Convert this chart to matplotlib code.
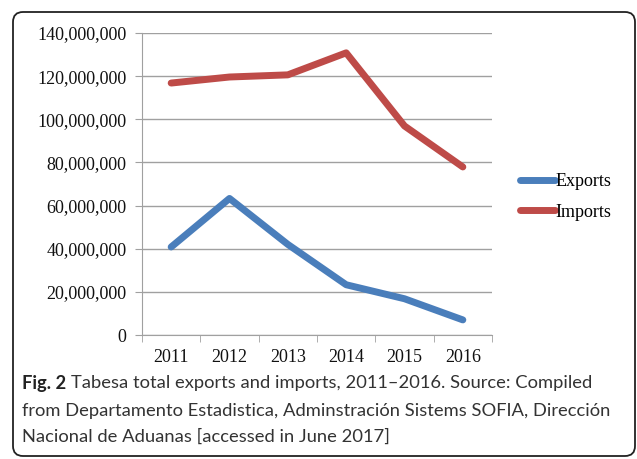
import matplotlib
matplotlib.use('Agg')
import matplotlib.pyplot as plt
from matplotlib.patches import FancyBboxPatch
from matplotlib.ticker import FuncFormatter, FixedLocator

# Datos
anios = ['2011', '2012', '2013', '2014', '2015', '2016']
exports = [40.8e6, 63.3e6, 42.0e6, 23.3e6, 16.8e6, 7.0e6]
imports = [116.8e6, 119.6e6, 120.6e6, 130.8e6, 96.9e6, 77.9e6]

color_exp = '#4a7ebb'
color_imp = '#be4b48'
fuente_ejes = 'Liberation Serif'
tam_ejes = 13

fig = plt.figure(figsize=(6.37, 4.59), dpi=100)
ax = fig.add_axes([142 / 637, 124 / 459, 350 / 637, 302 / 459])

x = list(range(len(anios)))
ax.plot(x, exports, color=color_exp, linewidth=5, solid_capstyle='round',
        solid_joinstyle='round', label='Exports', zorder=3)
ax.plot(x, imports, color=color_imp, linewidth=5, solid_capstyle='round',
        solid_joinstyle='round', label='Imports', zorder=3)

ax.set_xlim(-0.5, len(anios) - 0.5)
ax.set_ylim(0, 140e6)
ax.set_yticks([i * 20e6 for i in range(8)])
ax.yaxis.set_major_formatter(FuncFormatter(lambda v, p: f'{int(v):,}'))
ax.grid(axis='y', color='#a0a0a0', linewidth=1)
ax.set_axisbelow(True)

# ticks del eje x en los limites de las categorias (estilo Excel)
ax.set_xticks(x)
ax.set_xticklabels(anios)
ax.xaxis.set_minor_locator(FixedLocator([i - 0.5 for i in range(len(anios) + 1)]))
ax.tick_params(axis='x', which='major', length=0, pad=10)
ax.tick_params(axis='x', which='minor', length=5, color='#a0a0a0')
ax.tick_params(axis='y', length=5, color='#a0a0a0', pad=6)

for lbl in ax.get_xticklabels() + ax.get_yticklabels():
    lbl.set_fontfamily(fuente_ejes)
    lbl.set_fontsize(tam_ejes)
    lbl.set_color('#111111')

for lado in ['top', 'right']:
    ax.spines[lado].set_visible(False)
ax.spines['left'].set_color('#a0a0a0')
ax.spines['bottom'].set_color('#a0a0a0')

leg = ax.legend(loc='center left', bbox_to_anchor=(504 / 637, 1 - 197 / 459),
                bbox_transform=fig.transFigure, frameon=False, handlelength=1.9,
                handletextpad=0.05, labelspacing=0.75,
                prop={'family': fuente_ejes, 'size': tam_ejes})

# Marco redondeado
marco = FancyBboxPatch((13, 3), 622, 444, boxstyle='round,pad=0,rounding_size=10',
                       transform=None, facecolor='none', edgecolor='#222222',
                       linewidth=1.3)
fig.patches.append(marco)

# Pie de figura
fuente_pie = ['Lato', 'DejaVu Sans']
color_pie = '#333333'
linea1 = 'Tabesa total exports and imports, 2011\u20132016. Source: Compiled'
linea2 = 'from Departamento Estadistica, Adminstraci\u00f3n Sistems SOFIA, Direcci\u00f3n'
linea3 = 'Nacional de Aduanas [accessed in June 2017]'

# ajustar tamano para que la segunda linea ocupe el ancho del original
prueba = fig.text(0, 0, linea2, family=fuente_pie, fontsize=15)
fig.canvas.draw()
ancho = prueba.get_window_extent().width
prueba.remove()
tam_pie = 15 * 588 / ancho

t1 = fig.text(22 / 637, 1 - 383 / 459, 'Fig. 2', fontweight='bold', family=fuente_pie,
              fontsize=tam_pie, va='center', ha='left', color='#222222')
fig.canvas.draw()
bb = t1.get_window_extent()
fig.text((bb.x1 + 5) / 637, 1 - 383 / 459, linea1,
         family=fuente_pie, fontsize=tam_pie, va='center', ha='left', color=color_pie)
fig.text(22 / 637, 1 - 411 / 459, linea2,
         family=fuente_pie, fontsize=tam_pie, va='center', ha='left', color=color_pie)
fig.text(22 / 637, 1 - 437 / 459, linea3,
         family=fuente_pie, fontsize=tam_pie, va='center', ha='left', color=color_pie)

fig.savefig('out.png', dpi=100)
print('Grafico guardado en out.png')
